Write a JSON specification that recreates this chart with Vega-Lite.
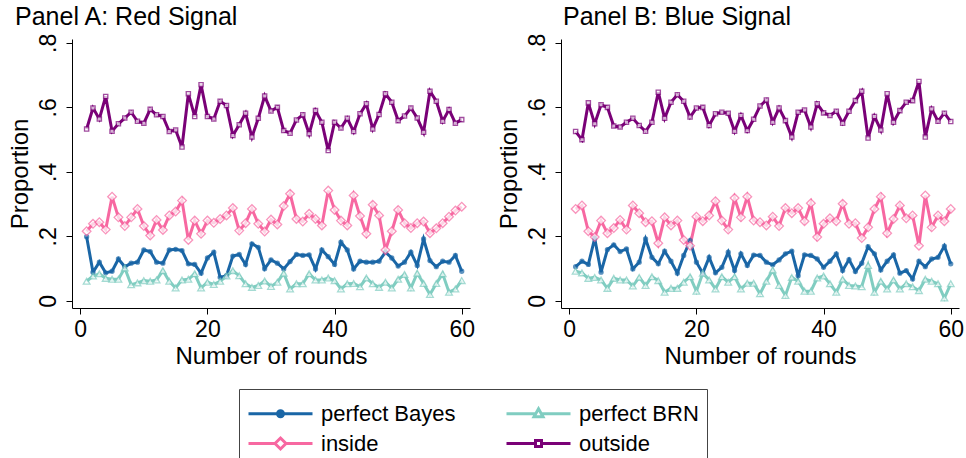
{
  "$schema": "https://vega.github.io/schema/vega-lite/v6.json",
  "padding": {"left": 8, "top": 5, "right": 0, "bottom": 0},
  "background": "white",
  "config": {
    "font": "Liberation Sans",
    "view": {"stroke": null},
    "axis": {"grid": false, "domainColor": "black", "tickColor": "black", "labelColor": "black", "titleColor": "black", "labelFontSize": 23, "titleFontSize": 24, "titleFontWeight": "normal", "tickSize": 6, "labelFont": "Liberation Sans", "titleFont": "Liberation Sans"},
    "title": {"font": "Liberation Sans", "fontSize": 25, "fontWeight": "normal", "color": "black"}
  },
  "datasets": {
    "d": [
      {"p":"A","r":1,"perfect Bayes":0.199,"perfect BRN":0.061,"inside":0.216,"outside":0.533},
      {"p":"A","r":2,"perfect Bayes":0.089,"perfect BRN":0.077,"inside":0.239,"outside":0.598},
      {"p":"A","r":3,"perfect Bayes":0.120,"perfect BRN":0.084,"inside":0.244,"outside":0.564},
      {"p":"A","r":4,"perfect Bayes":0.087,"perfect BRN":0.070,"inside":0.221,"outside":0.634},
      {"p":"A","r":5,"perfect Bayes":0.092,"perfect BRN":0.067,"inside":0.323,"outside":0.526},
      {"p":"A","r":6,"perfect Bayes":0.130,"perfect BRN":0.067,"inside":0.259,"outside":0.549},
      {"p":"A","r":7,"perfect Bayes":0.106,"perfect BRN":0.102,"inside":0.232,"outside":0.567},
      {"p":"A","r":8,"perfect Bayes":0.117,"perfect BRN":0.050,"inside":0.259,"outside":0.585},
      {"p":"A","r":9,"perfect Bayes":0.120,"perfect BRN":0.056,"inside":0.285,"outside":0.557},
      {"p":"A","r":10,"perfect Bayes":0.158,"perfect BRN":0.063,"inside":0.232,"outside":0.551},
      {"p":"A","r":11,"perfect Bayes":0.153,"perfect BRN":0.061,"inside":0.203,"outside":0.594},
      {"p":"A","r":12,"perfect Bayes":0.120,"perfect BRN":0.065,"inside":0.251,"outside":0.577},
      {"p":"A","r":13,"perfect Bayes":0.117,"perfect BRN":0.094,"inside":0.220,"outside":0.572},
      {"p":"A","r":14,"perfect Bayes":0.158,"perfect BRN":0.061,"inside":0.265,"outside":0.525},
      {"p":"A","r":15,"perfect Bayes":0.160,"perfect BRN":0.040,"inside":0.277,"outside":0.530},
      {"p":"A","r":16,"perfect Bayes":0.156,"perfect BRN":0.065,"inside":0.311,"outside":0.477},
      {"p":"A","r":17,"perfect Bayes":0.115,"perfect BRN":0.067,"inside":0.189,"outside":0.642},
      {"p":"A","r":18,"perfect Bayes":0.113,"perfect BRN":0.084,"inside":0.249,"outside":0.572},
      {"p":"A","r":19,"perfect Bayes":0.086,"perfect BRN":0.040,"inside":0.208,"outside":0.670},
      {"p":"A","r":20,"perfect Bayes":0.133,"perfect BRN":0.058,"inside":0.249,"outside":0.572},
      {"p":"A","r":21,"perfect Bayes":0.151,"perfect BRN":0.051,"inside":0.242,"outside":0.564},
      {"p":"A","r":22,"perfect Bayes":0.073,"perfect BRN":0.061,"inside":0.254,"outside":0.619},
      {"p":"A","r":23,"perfect Bayes":0.078,"perfect BRN":0.077,"inside":0.265,"outside":0.606},
      {"p":"A","r":24,"perfect Bayes":0.139,"perfect BRN":0.094,"inside":0.288,"outside":0.513},
      {"p":"A","r":25,"perfect Bayes":0.144,"perfect BRN":0.078,"inside":0.218,"outside":0.546},
      {"p":"A","r":26,"perfect Bayes":0.113,"perfect BRN":0.053,"inside":0.241,"outside":0.582},
      {"p":"A","r":27,"perfect Bayes":0.177,"perfect BRN":0.042,"inside":0.285,"outside":0.508},
      {"p":"A","r":28,"perfect Bayes":0.166,"perfect BRN":0.048,"inside":0.239,"outside":0.566},
      {"p":"A","r":29,"perfect Bayes":0.100,"perfect BRN":0.062,"inside":0.215,"outside":0.635},
      {"p":"A","r":30,"perfect Bayes":0.127,"perfect BRN":0.045,"inside":0.252,"outside":0.589},
      {"p":"A","r":31,"perfect Bayes":0.117,"perfect BRN":0.058,"inside":0.237,"outside":0.600},
      {"p":"A","r":32,"perfect Bayes":0.099,"perfect BRN":0.086,"inside":0.294,"outside":0.528},
      {"p":"A","r":33,"perfect Bayes":0.122,"perfect BRN":0.037,"inside":0.332,"outside":0.520},
      {"p":"A","r":34,"perfect Bayes":0.144,"perfect BRN":0.053,"inside":0.254,"outside":0.561},
      {"p":"A","r":35,"perfect Bayes":0.141,"perfect BRN":0.053,"inside":0.246,"outside":0.577},
      {"p":"A","r":36,"perfect Bayes":0.143,"perfect BRN":0.084,"inside":0.270,"outside":0.518},
      {"p":"A","r":37,"perfect Bayes":0.099,"perfect BRN":0.065,"inside":0.254,"outside":0.590},
      {"p":"A","r":38,"perfect Bayes":0.158,"perfect BRN":0.065,"inside":0.234,"outside":0.554},
      {"p":"A","r":39,"perfect Bayes":0.137,"perfect BRN":0.071,"inside":0.342,"outside":0.466},
      {"p":"A","r":40,"perfect Bayes":0.113,"perfect BRN":0.063,"inside":0.282,"outside":0.554},
      {"p":"A","r":41,"perfect Bayes":0.182,"perfect BRN":0.037,"inside":0.249,"outside":0.536},
      {"p":"A","r":42,"perfect Bayes":0.158,"perfect BRN":0.053,"inside":0.234,"outside":0.566},
      {"p":"A","r":43,"perfect Bayes":0.099,"perfect BRN":0.054,"inside":0.327,"outside":0.525},
      {"p":"A","r":44,"perfect Bayes":0.123,"perfect BRN":0.044,"inside":0.263,"outside":0.580},
      {"p":"A","r":45,"perfect Bayes":0.120,"perfect BRN":0.071,"inside":0.208,"outside":0.611},
      {"p":"A","r":46,"perfect Bayes":0.120,"perfect BRN":0.053,"inside":0.298,"outside":0.533},
      {"p":"A","r":47,"perfect Bayes":0.123,"perfect BRN":0.042,"inside":0.265,"outside":0.578},
      {"p":"A","r":48,"perfect Bayes":0.151,"perfect BRN":0.058,"inside":0.158,"outside":0.642},
      {"p":"A","r":49,"perfect Bayes":0.133,"perfect BRN":0.040,"inside":0.216,"outside":0.616},
      {"p":"A","r":50,"perfect Bayes":0.108,"perfect BRN":0.067,"inside":0.282,"outside":0.559},
      {"p":"A","r":51,"perfect Bayes":0.120,"perfect BRN":0.082,"inside":0.241,"outside":0.573},
      {"p":"A","r":52,"perfect Bayes":0.151,"perfect BRN":0.040,"inside":0.226,"outside":0.598},
      {"p":"A","r":53,"perfect Bayes":0.110,"perfect BRN":0.086,"inside":0.241,"outside":0.567},
      {"p":"A","r":54,"perfect Bayes":0.192,"perfect BRN":0.054,"inside":0.246,"outside":0.523},
      {"p":"A","r":55,"perfect Bayes":0.125,"perfect BRN":0.020,"inside":0.210,"outside":0.650},
      {"p":"A","r":56,"perfect Bayes":0.106,"perfect BRN":0.054,"inside":0.225,"outside":0.619},
      {"p":"A","r":57,"perfect Bayes":0.123,"perfect BRN":0.084,"inside":0.241,"outside":0.557},
      {"p":"A","r":58,"perfect Bayes":0.120,"perfect BRN":0.027,"inside":0.261,"outside":0.593},
      {"p":"A","r":59,"perfect Bayes":0.141,"perfect BRN":0.037,"inside":0.280,"outside":0.551},
      {"p":"A","r":60,"perfect Bayes":0.092,"perfect BRN":0.063,"inside":0.292,"outside":0.562},
      {"p":"B","r":1,"perfect Bayes":0.106,"perfect BRN":0.092,"inside":0.285,"outside":0.525},
      {"p":"B","r":2,"perfect Bayes":0.123,"perfect BRN":0.087,"inside":0.296,"outside":0.500},
      {"p":"B","r":3,"perfect Bayes":0.113,"perfect BRN":0.070,"inside":0.216,"outside":0.614},
      {"p":"B","r":4,"perfect Bayes":0.194,"perfect BRN":0.073,"inside":0.198,"outside":0.549},
      {"p":"B","r":5,"perfect Bayes":0.089,"perfect BRN":0.065,"inside":0.249,"outside":0.608},
      {"p":"B","r":6,"perfect Bayes":0.159,"perfect BRN":0.039,"inside":0.210,"outside":0.600},
      {"p":"B","r":7,"perfect Bayes":0.174,"perfect BRN":0.070,"inside":0.226,"outside":0.542},
      {"p":"B","r":8,"perfect Bayes":0.153,"perfect BRN":0.065,"inside":0.251,"outside":0.539},
      {"p":"B","r":9,"perfect Bayes":0.161,"perfect BRN":0.065,"inside":0.221,"outside":0.554},
      {"p":"B","r":10,"perfect Bayes":0.099,"perfect BRN":0.046,"inside":0.296,"outside":0.566},
      {"p":"B","r":11,"perfect Bayes":0.120,"perfect BRN":0.073,"inside":0.272,"outside":0.544},
      {"p":"B","r":12,"perfect Bayes":0.192,"perfect BRN":0.048,"inside":0.244,"outside":0.526},
      {"p":"B","r":13,"perfect Bayes":0.135,"perfect BRN":0.075,"inside":0.247,"outside":0.554},
      {"p":"B","r":14,"perfect Bayes":0.115,"perfect BRN":0.063,"inside":0.179,"outside":0.647},
      {"p":"B","r":15,"perfect Bayes":0.154,"perfect BRN":0.027,"inside":0.259,"outside":0.566},
      {"p":"B","r":16,"perfect Bayes":0.123,"perfect BRN":0.039,"inside":0.234,"outside":0.616},
      {"p":"B","r":17,"perfect Bayes":0.086,"perfect BRN":0.039,"inside":0.249,"outside":0.639},
      {"p":"B","r":18,"perfect Bayes":0.141,"perfect BRN":0.058,"inside":0.189,"outside":0.619},
      {"p":"B","r":19,"perfect Bayes":0.187,"perfect BRN":0.075,"inside":0.171,"outside":0.570},
      {"p":"B","r":20,"perfect Bayes":0.120,"perfect BRN":0.030,"inside":0.261,"outside":0.598},
      {"p":"B","r":21,"perfect Bayes":0.086,"perfect BRN":0.086,"inside":0.247,"outside":0.600},
      {"p":"B","r":22,"perfect Bayes":0.135,"perfect BRN":0.065,"inside":0.265,"outside":0.544},
      {"p":"B","r":23,"perfect Bayes":0.087,"perfect BRN":0.037,"inside":0.309,"outside":0.580},
      {"p":"B","r":24,"perfect Bayes":0.104,"perfect BRN":0.075,"inside":0.249,"outside":0.585},
      {"p":"B","r":25,"perfect Bayes":0.151,"perfect BRN":0.058,"inside":0.221,"outside":0.582},
      {"p":"B","r":26,"perfect Bayes":0.094,"perfect BRN":0.075,"inside":0.319,"outside":0.526},
      {"p":"B","r":27,"perfect Bayes":0.146,"perfect BRN":0.037,"inside":0.259,"outside":0.575},
      {"p":"B","r":28,"perfect Bayes":0.110,"perfect BRN":0.055,"inside":0.323,"outside":0.528},
      {"p":"B","r":29,"perfect Bayes":0.142,"perfect BRN":0.055,"inside":0.249,"outside":0.563},
      {"p":"B","r":30,"perfect Bayes":0.141,"perfect BRN":0.022,"inside":0.244,"outside":0.604},
      {"p":"B","r":31,"perfect Bayes":0.120,"perfect BRN":0.061,"inside":0.234,"outside":0.623},
      {"p":"B","r":32,"perfect Bayes":0.112,"perfect BRN":0.096,"inside":0.261,"outside":0.554},
      {"p":"B","r":33,"perfect Bayes":0.127,"perfect BRN":0.048,"inside":0.232,"outside":0.598},
      {"p":"B","r":34,"perfect Bayes":0.146,"perfect BRN":0.017,"inside":0.288,"outside":0.559},
      {"p":"B","r":35,"perfect Bayes":0.154,"perfect BRN":0.073,"inside":0.272,"outside":0.508},
      {"p":"B","r":36,"perfect Bayes":0.078,"perfect BRN":0.061,"inside":0.288,"outside":0.585},
      {"p":"B","r":37,"perfect Bayes":0.143,"perfect BRN":0.030,"inside":0.247,"outside":0.592},
      {"p":"B","r":38,"perfect Bayes":0.141,"perfect BRN":0.030,"inside":0.303,"outside":0.539},
      {"p":"B","r":39,"perfect Bayes":0.130,"perfect BRN":0.071,"inside":0.198,"outside":0.611},
      {"p":"B","r":40,"perfect Bayes":0.104,"perfect BRN":0.077,"inside":0.239,"outside":0.583},
      {"p":"B","r":41,"perfect Bayes":0.123,"perfect BRN":0.053,"inside":0.256,"outside":0.575},
      {"p":"B","r":42,"perfect Bayes":0.146,"perfect BRN":0.027,"inside":0.247,"outside":0.588},
      {"p":"B","r":43,"perfect Bayes":0.094,"perfect BRN":0.067,"inside":0.301,"outside":0.551},
      {"p":"B","r":44,"perfect Bayes":0.128,"perfect BRN":0.048,"inside":0.239,"outside":0.588},
      {"p":"B","r":45,"perfect Bayes":0.091,"perfect BRN":0.046,"inside":0.241,"outside":0.621},
      {"p":"B","r":46,"perfect Bayes":0.117,"perfect BRN":0.044,"inside":0.195,"outside":0.650},
      {"p":"B","r":47,"perfect Bayes":0.168,"perfect BRN":0.110,"inside":0.228,"outside":0.505},
      {"p":"B","r":48,"perfect Bayes":0.146,"perfect BRN":0.027,"inside":0.285,"outside":0.572},
      {"p":"B","r":49,"perfect Bayes":0.096,"perfect BRN":0.061,"inside":0.323,"outside":0.530},
      {"p":"B","r":50,"perfect Bayes":0.123,"perfect BRN":0.037,"inside":0.210,"outside":0.642},
      {"p":"B","r":51,"perfect Bayes":0.143,"perfect BRN":0.065,"inside":0.254,"outside":0.554},
      {"p":"B","r":52,"perfect Bayes":0.086,"perfect BRN":0.037,"inside":0.296,"outside":0.590},
      {"p":"B","r":53,"perfect Bayes":0.094,"perfect BRN":0.053,"inside":0.256,"outside":0.616},
      {"p":"B","r":54,"perfect Bayes":0.068,"perfect BRN":0.044,"inside":0.265,"outside":0.621},
      {"p":"B","r":55,"perfect Bayes":0.123,"perfect BRN":0.032,"inside":0.171,"outside":0.680},
      {"p":"B","r":56,"perfect Bayes":0.106,"perfect BRN":0.067,"inside":0.327,"outside":0.508},
      {"p":"B","r":57,"perfect Bayes":0.130,"perfect BRN":0.061,"inside":0.228,"outside":0.595},
      {"p":"B","r":58,"perfect Bayes":0.135,"perfect BRN":0.053,"inside":0.265,"outside":0.557},
      {"p":"B","r":59,"perfect Bayes":0.170,"perfect BRN":0.009,"inside":0.247,"outside":0.582},
      {"p":"B","r":60,"perfect Bayes":0.115,"perfect BRN":0.053,"inside":0.285,"outside":0.556}
    ]
  },
  "data": {"name": "d"},
  "transform": [{"fold": ["perfect Bayes", "perfect BRN", "inside", "outside"], "as": ["series", "value"]}],
  "spacing": 22,
  "resolve": {"scale": {"color": "shared"}},
  "hconcat": [
    {
      "width": 398, "height": 269,
      "title": {"text": "Panel A: Red Signal", "anchor": "start", "frame": "group", "dx": -57, "offset": 3},
      "transform": [{"filter": "datum.p === 'A'"}],
      "encoding": {
        "x": {"field": "r", "type": "quantitative", "scale": {"domain": [-1.3, 61.3], "nice": false, "zero": false}, "axis": {"values": [0, 20, 40, 60], "title": "Number of rounds", "labelPadding": 4, "titlePadding": 3}},
        "y": {"field": "value", "type": "quantitative", "scale": {"domain": [-0.022, 0.812], "nice": false, "zero": false}, "axis": {"values": [0, 0.2, 0.4, 0.6, 0.8], "labelAngle": -90, "labelExpr": "datum.value == 0 ? '0' : replace(format(datum.value, '.1f'), '0.', '.')", "title": "Proportion", "labelPadding": 6, "titlePadding": 5}}
      },
      "layer": [
        {
          "mark": {"type": "line", "strokeWidth": 3},
          "encoding": {
            "color": {"field": "series", "type": "nominal",
              "scale": {"domain": ["perfect Bayes", "perfect BRN", "inside", "outside"], "range": ["#1a66a6", "#80cdc1", "#f768a1", "#7a0177"]},
              "legend": {
                "title": " ", "titleFontSize": 2, "titlePadding": 3, "orient": "none", "legendX": 167, "legendY": 350, "direction": "horizontal", "columns": 2, "columnPadding": 44, "rowPadding": 7,
                "labelFontSize": 22, "labelFont": "Liberation Sans", "labelColor": "black", "labelOffset": 51,
                "symbolSize": 400, "symbolStrokeWidth": 3, "strokeColor": "#444", "fillColor": "white", "padding": 8,
                "encode": {"symbols": {"update": {
                  "shape": [
                    {"test": "datum.value === 'perfect Bayes'", "value": "M-1,0H5.4M2.5,0A0.3,0.3 0 1,1 1.9,0A0.3,0.3 0 1,1 2.5,0Z"},
                    {"test": "datum.value === 'perfect BRN'", "value": "M-1,0H1.92M2.48,0H5.4M2.2,-0.5L2.65,0.3L1.75,0.3Z"},
                    {"test": "datum.value === 'inside'", "value": "M-1,0H1.65M2.75,0H5.4M2.2,-0.55L2.75,0L2.2,0.55L1.65,0Z"},
                    {"value": "M-1,0H1.9M2.5,0H5.4M1.9,-0.3H2.5V0.3H1.9Z"}
                  ],
                  "fill": [{"test": "datum.value === 'perfect Bayes'", "value": "#1a66a6"}, {"value": "white"}],
                  "fillOpacity": {"value": 1}
                }}}
              }
            }
          }
        },
        {
          "mark": {"type": "point", "filled": true, "strokeWidth": 1.3},
          "encoding": {
            "shape": {"condition": [{"test": "datum.series === 'perfect Bayes'", "value": "circle"}, {"test": "datum.series === 'perfect BRN'", "value": "triangle-up"}, {"test": "datum.series === 'inside'", "value": "diamond"}], "value": "square"},
            "size": {"condition": [{"test": "datum.series === 'perfect Bayes'", "value": 16}, {"test": "datum.series === 'perfect BRN'", "value": 45}, {"test": "datum.series === 'inside'", "value": 75}], "value": 18},
            "stroke": {"condition": [{"test": "datum.series === 'perfect Bayes'", "value": "#1a66a6"}, {"test": "datum.series === 'perfect BRN'", "value": "#80cdc1"}, {"test": "datum.series === 'inside'", "value": "#f768a1"}], "value": "#7a0177"},
            "fill": {"condition": [{"test": "datum.series === 'perfect Bayes'", "value": "#1a66a6"}], "value": "white"}
          }
        }
      ]
    },
    {
      "width": 398, "height": 269,
      "title": {"text": "Panel B: Blue Signal", "anchor": "start", "frame": "group", "dx": 2, "offset": 3},
      "transform": [{"filter": "datum.p === 'B'"}],
      "encoding": {
        "x": {"field": "r", "type": "quantitative", "scale": {"domain": [-1.3, 61.3], "nice": false, "zero": false}, "axis": {"values": [0, 20, 40, 60], "title": "Number of rounds", "labelPadding": 4, "titlePadding": 3}},
        "y": {"field": "value", "type": "quantitative", "scale": {"domain": [-0.022, 0.812], "nice": false, "zero": false}, "axis": {"values": [0, 0.2, 0.4, 0.6, 0.8], "labelAngle": -90, "labelExpr": "datum.value == 0 ? '0' : replace(format(datum.value, '.1f'), '0.', '.')", "title": "Proportion", "labelPadding": 6, "titlePadding": 5}}
      },
      "layer": [
        {
          "mark": {"type": "line", "strokeWidth": 3},
          "encoding": {
            "color": {"field": "series", "type": "nominal", "scale": {"domain": ["perfect Bayes", "perfect BRN", "inside", "outside"], "range": ["#1a66a6", "#80cdc1", "#f768a1", "#7a0177"]}, "legend": null}
          }
        },
        {
          "mark": {"type": "point", "filled": true, "strokeWidth": 1.3},
          "encoding": {
            "shape": {"condition": [{"test": "datum.series === 'perfect Bayes'", "value": "circle"}, {"test": "datum.series === 'perfect BRN'", "value": "triangle-up"}, {"test": "datum.series === 'inside'", "value": "diamond"}], "value": "square"},
            "size": {"condition": [{"test": "datum.series === 'perfect Bayes'", "value": 16}, {"test": "datum.series === 'perfect BRN'", "value": 45}, {"test": "datum.series === 'inside'", "value": 75}], "value": 18},
            "stroke": {"condition": [{"test": "datum.series === 'perfect Bayes'", "value": "#1a66a6"}, {"test": "datum.series === 'perfect BRN'", "value": "#80cdc1"}, {"test": "datum.series === 'inside'", "value": "#f768a1"}], "value": "#7a0177"},
            "fill": {"condition": [{"test": "datum.series === 'perfect Bayes'", "value": "#1a66a6"}], "value": "white"}
          }
        }
      ]
    }
  ]
}
